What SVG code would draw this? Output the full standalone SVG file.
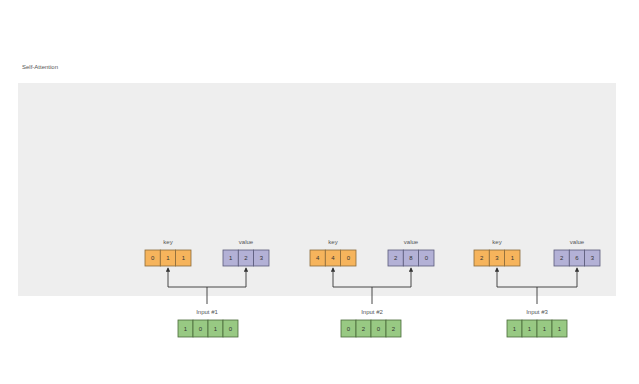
<svg xmlns="http://www.w3.org/2000/svg" width="639" height="384" viewBox="0 0 639 384">
<defs>
<style>
.lbl{font-family:"Liberation Sans",Arial,sans-serif;font-size:6px;fill:#555;text-anchor:middle}
.num{font-family:"Liberation Sans",Arial,sans-serif;font-size:6px;fill:#333;text-anchor:middle}
.key{fill:#f6b45c;stroke:#8a6a3a;stroke-width:0.8}
.val{fill:#b3b1d6;stroke:#5a5a7a;stroke-width:0.8}
.inp{fill:#98c983;stroke:#4a6a3a;stroke-width:0.8}
.conn{fill:none;stroke:#333;stroke-width:0.9}
</style>
<marker id="ah" viewBox="0 0 6 6" refX="5" refY="3" markerWidth="5" markerHeight="5" orient="auto">
<path d="M0,0 L6,3 L0,6 z" fill="#333"/>
</marker>
</defs>
<rect width="639" height="384" fill="#ffffff"/>
<text x="22" y="69" style="font-family:'Liberation Sans',Arial,sans-serif;font-size:6px;fill:#555">Self-Attention</text>
<rect x="18" y="83" width="598" height="213" fill="#eeeeee"/>

<g id="connectors">
<path class="conn" d="M207,304 V287 M168,287 H246 M168,287 V268" marker-end="url(#ah)"/>
<path class="conn" d="M246,287 V268" marker-end="url(#ah)"/>
<path class="conn" d="M372,304 V287 M333,287 H411 M333,287 V268" marker-end="url(#ah)"/>
<path class="conn" d="M411,287 V268" marker-end="url(#ah)"/>
<path class="conn" d="M537,304 V287 M497,287 H577 M497,287 V268" marker-end="url(#ah)"/>
<path class="conn" d="M577,287 V268" marker-end="url(#ah)"/>
</g>

<g id="key1">
<text class="lbl" x="168" y="244">key</text>
<rect class="key" x="145" y="250" width="15.3" height="16"/><rect class="key" x="160.3" y="250" width="15.3" height="16"/><rect class="key" x="175.6" y="250" width="15.4" height="16"/>
<text class="num" x="152.7" y="260">0</text><text class="num" x="168" y="260">1</text><text class="num" x="183.3" y="260">1</text>
</g>
<g id="value1">
<text class="lbl" x="246" y="244">value</text>
<rect class="val" x="223" y="250" width="15.3" height="16"/><rect class="val" x="238.3" y="250" width="15.3" height="16"/><rect class="val" x="253.6" y="250" width="15.4" height="16"/>
<text class="num" x="230.7" y="260">1</text><text class="num" x="246" y="260">2</text><text class="num" x="261.3" y="260">3</text>
</g>
<g id="input1">
<text class="lbl" x="207" y="314">Input #1</text>
<rect class="inp" x="178" y="320" width="15" height="17"/><rect class="inp" x="193" y="320" width="15" height="17"/><rect class="inp" x="208" y="320" width="15" height="17"/><rect class="inp" x="223" y="320" width="15" height="17"/>
<text class="num" x="185.5" y="330.5">1</text><text class="num" x="200.5" y="330.5">0</text><text class="num" x="215.5" y="330.5">1</text><text class="num" x="230.5" y="330.5">0</text>
</g>

<g id="key2">
<text class="lbl" x="333" y="244">key</text>
<rect class="key" x="310" y="250" width="15.3" height="16"/><rect class="key" x="325.3" y="250" width="15.3" height="16"/><rect class="key" x="340.6" y="250" width="15.4" height="16"/>
<text class="num" x="317.7" y="260">4</text><text class="num" x="333" y="260">4</text><text class="num" x="348.3" y="260">0</text>
</g>
<g id="value2">
<text class="lbl" x="411" y="244">value</text>
<rect class="val" x="388" y="250" width="15.3" height="16"/><rect class="val" x="403.3" y="250" width="15.3" height="16"/><rect class="val" x="418.6" y="250" width="15.4" height="16"/>
<text class="num" x="395.7" y="260">2</text><text class="num" x="411" y="260">8</text><text class="num" x="426.3" y="260">0</text>
</g>
<g id="input2">
<text class="lbl" x="372" y="314">Input #2</text>
<rect class="inp" x="341" y="320" width="15" height="17"/><rect class="inp" x="356" y="320" width="15" height="17"/><rect class="inp" x="371" y="320" width="15" height="17"/><rect class="inp" x="386" y="320" width="15" height="17"/>
<text class="num" x="348.5" y="330.5">0</text><text class="num" x="363.5" y="330.5">2</text><text class="num" x="378.5" y="330.5">0</text><text class="num" x="393.5" y="330.5">2</text>
</g>

<g id="key3">
<text class="lbl" x="497" y="244">key</text>
<rect class="key" x="474" y="250" width="15.3" height="16"/><rect class="key" x="489.3" y="250" width="15.3" height="16"/><rect class="key" x="504.6" y="250" width="15.4" height="16"/>
<text class="num" x="481.7" y="260">2</text><text class="num" x="497" y="260">3</text><text class="num" x="512.3" y="260">1</text>
</g>
<g id="value3">
<text class="lbl" x="577" y="244">value</text>
<rect class="val" x="554" y="250" width="15.3" height="16"/><rect class="val" x="569.3" y="250" width="15.3" height="16"/><rect class="val" x="584.6" y="250" width="15.4" height="16"/>
<text class="num" x="561.7" y="260">2</text><text class="num" x="577" y="260">6</text><text class="num" x="592.3" y="260">3</text>
</g>
<g id="input3">
<text class="lbl" x="537" y="314">Input #3</text>
<rect class="inp" x="507" y="320" width="15" height="17"/><rect class="inp" x="522" y="320" width="15" height="17"/><rect class="inp" x="537" y="320" width="15" height="17"/><rect class="inp" x="552" y="320" width="15" height="17"/>
<text class="num" x="514.5" y="330.5">1</text><text class="num" x="529.5" y="330.5">1</text><text class="num" x="544.5" y="330.5">1</text><text class="num" x="559.5" y="330.5">1</text>
</g>
</svg>
